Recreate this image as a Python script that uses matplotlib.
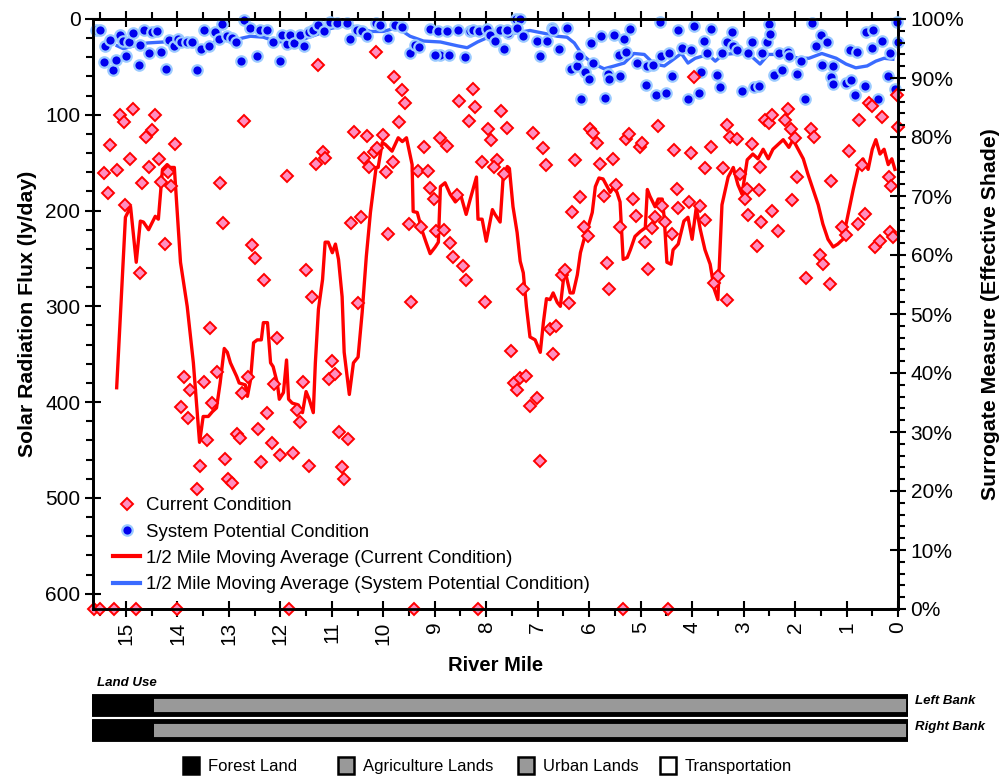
import matplotlib
matplotlib.use("Agg")
import matplotlib.pyplot as plt
from matplotlib.lines import Line2D
from matplotlib.patches import Rectangle
from matplotlib.ticker import MultipleLocator, FuncFormatter

plt.rcParams['font.family'] = ['Liberation Sans', 'DejaVu Sans']

# --- Current Condition (red diamonds): river mile / solar flux (ly/day)
red_mile = [15.43, 15.35, 15.30, 15.17, 15.12, 15.04, 15.01, 14.93, 14.87, 14.73,
            14.69, 14.62, 14.56, 14.49, 14.43, 14.36, 14.32, 14.25, 14.18, 14.12,
            14.05, 13.94, 13.88, 13.80, 13.75, 13.62, 13.57, 13.49, 13.42, 13.36,
            13.33, 13.24, 13.18, 13.11, 13.07, 13.02, 12.94, 12.85, 12.79, 12.74,
            12.70, 12.63, 12.56, 12.50, 12.43, 12.37, 12.31, 12.25, 12.17, 12.06,
            12.12, 12.00, 11.87, 11.75, 11.68, 11.62, 11.56, 11.50, 11.44, 11.38,
            11.31, 11.17, 11.13, 11.06, 11.00, 10.93, 10.87, 10.80, 10.76, 10.69,
            10.63, 10.56, 10.49, 10.43, 10.38, 10.32, 10.27, 10.19, 10.12, 10.01,
            9.94, 9.90, 11.26, 10.14, 9.79, 9.63, 9.57, 9.70, 9.81, 9.46,
            9.51, 9.27, 9.33, 9.14, 9.20, 9.09, 9.02, 8.89, 8.77, 8.97,
            8.83, 8.71, 8.65, 8.45, 8.39, 8.57, 8.52, 8.34, 8.26, 8.21,
            8.08, 8.02, 7.96, 7.91, 7.79, 7.84, 7.71, 7.60, 7.65, 7.52,
            7.47, 7.40, 7.34, 7.22, 7.29, 7.15, 7.02, 6.96, 7.09, 6.90,
            6.84, 6.77, 6.64, 6.71, 6.53, 6.47, 6.39, 6.34, 6.27, 6.17,
            6.10, 6.03, 5.98, 5.92, 5.85, 5.79, 5.71, 5.66, 5.61, 5.54,
            5.48, 5.41, 5.28, 5.22, 5.15, 5.09, 5.02, 4.98, 4.91, 4.85,
            4.78, 4.72, 4.66, 4.59, 4.52, 4.39, 4.35, 4.30, 4.27, 3.96,
            4.03, 3.75, 3.63, 3.40, 3.33, 3.26, 3.13, 3.07, 2.94, 2.83,
            2.68, 2.70, 2.58, 2.51, 2.44, 2.19, 2.14, 2.07, 2.01, 1.70,
            1.63, 1.96, 1.31, 0.95, 0.76, 0.70, 0.57, 0.50, 0.31, 0.17,
            0.13, 0.01, 0.00,
            4.06, 3.84, 3.75, 3.57, 3.50, 3.32, 2.97, 2.91, 2.73, 2.67,
            2.45, 2.33, 2.06, 1.79, 1.51, 1.46, 1.32, 1.09, 1.01, 0.78,
            0.64, 0.45, 0.35, 0.16, 0.10,
            15.63, 15.50, 15.24, 14.80, 14.00, 11.83, 9.40, 8.16, 5.34, 4.47]
red_flux = [161, 182, 132, 158, 100, 108, 194, 146, 94, 265,
            171, 123, 155, 116, 100, 146, 170, 235, 160, 174,
            131, 405, 374, 417, 387, 491, 467, 379, 440, 323,
            401, 369, 171, 213, 459, 480, 484, 433, 437, 390,
            106, 374, 236, 250, 428, 463, 272, 411, 443, 333,
            381, 455, 164, 453, 408, 421, 379, 262, 467, 290,
            151, 139, 145, 376, 357, 371, 431, 468, 480, 439,
            213, 118, 296, 207, 145, 122, 155, 139, 135, 121,
            160, 224, 48, 34, 61, 74, 88, 108, 149, 295,
            214, 217, 159, 159, 134, 176, 188, 124, 133, 221,
            220, 234, 249, 258, 273, 184, 86, 106, 73, 92,
            149, 295, 115, 126, 147, 154, 96, 114, 162, 347,
            380, 387, 375, 373, 282, 404, 396, 461, 119, 135,
            152, 324, 321, 350, 267, 262, 297, 202, 147, 186,
            217, 227, 115, 119, 129, 151, 185, 255, 282, 146,
            173, 217, 125, 120, 188, 206, 134, 129, 233, 261,
            218, 207, 112, 195, 212, 224, 137, 177, 197, 61,
            140, 156, 134, 156, 111, 123, 125, 162, 177, 130,
            154, 179, 105, 109, 100, 105, 94, 115, 124, 115,
            123, 165, 169, 138, 105, 152, 88, 91, 102, 165,
            174, 79, 113,
            191, 195, 210, 276, 268, 293, 188, 205, 237, 212,
            200, 221, 189, 270, 246, 256, 277, 217, 225, 214,
            204, 238, 232, 222, 228,
            616, 616, 616, 616, 616, 616, 616, 616, 616, 616]

# --- System Potential Condition (blue dots)
blue_mile = [15.59, 15.50, 15.40, 15.43, 15.31, 15.25, 15.20, 15.12, 15.05, 14.99,
             14.95, 14.86, 14.75, 14.72, 14.64, 14.56, 14.49, 14.39, 14.32, 14.23,
             14.17, 14.07, 13.99, 13.93, 13.81, 13.71, 13.62, 13.55, 13.49, 13.39,
             13.26, 13.20, 13.13, 13.04, 12.94, 12.87, 12.76, 12.70, 12.58, 12.45,
             12.40, 12.26, 12.14, 12.01, 11.97, 11.87, 11.81, 11.73, 11.62, 11.55,
             11.45, 11.37, 11.26, 11.16, 11.04, 10.90, 10.70, 10.64, 10.51, 10.41,
             10.32, 10.14, 10.06, 9.90, 9.77, 9.64, 9.48, 9.38, 9.31, 9.09,
             8.93, 8.76, 8.89, 8.99, 8.73, 8.54, 8.41, 8.31, 8.25, 8.15,
             7.99, 7.92, 7.83, 7.73, 7.66, 7.57, 7.60, 7.43, 7.34, 7.40,
             7.29, 7.02, 6.96, 6.82, 6.72, 6.70, 6.59, 6.43, 6.36, 6.23,
             6.20, 6.15, 6.09, 6.00, 5.96, 5.93, 5.77, 5.70, 5.63, 5.61,
             5.51, 5.40, 5.43, 5.32, 5.29, 5.20, 5.07, 4.89, 4.87, 4.76,
             4.70, 4.63, 4.61, 4.50, 4.44, 4.39, 4.27, 4.20, 4.08, 4.02,
             3.96, 3.87, 3.82, 3.77, 3.71, 3.64, 3.51, 3.46, 3.42, 3.33,
             3.22, 3.20, 3.13, 3.04, 2.92, 2.83, 2.80, 2.71, 2.64, 2.55,
             2.51, 2.49, 2.40, 2.32, 2.25, 2.14, 2.11, 1.96, 1.89, 1.80,
             1.68, 1.60, 1.50, 1.47, 1.37, 1.31, 1.27, 1.26, 1.02, 0.94,
             0.91, 0.83, 0.79, 0.64, 0.62, 0.51, 0.48, 0.38, 0.32, 0.20,
             0.15, 0.05, 0.01, 0.00]
blue_flux = [12, 12, 28, 45, 22, 53, 43, 17, 23, 39,
             24, 15, 48, 27, 12, 36, 14, 13, 34, 52,
             22, 28, 21, 24, 24, 24, 53, 31, 11, 28,
             14, 21, 5, 18, 20, 24, 44, 1, 9, 39,
             12, 11, 24, 44, 17, 26, 17, 25, 17, 28,
             14, 11, 6, 13, 3, 4, 4, 21, 11, 13,
             18, 4, 6, 20, 6, 8, 35, 27, 29, 10,
             13, 13, 38, 38, 38, 11, 40, 13, 11, 13,
             10, 17, 23, 12, 31, 15, 12, 0, 0, 9,
             18, 23, 39, 23, 9, 11, 31, 9, 52, 49,
             39, 84, 55, 63, 25, 46, 18, 83, 57, 63,
             17, 60, 38, 21, 34, 10, 46, 69, 49, 48,
             79, 3, 39, 77, 35, 59, 11, 30, 84, 32,
             7, 77, 55, 23, 35, 10, 58, 71, 35, 24,
             14, 28, 32, 75, 35, 24, 71, 70, 35, 24,
             5, 16, 58, 35, 53, 34, 39, 57, 44, 84,
             4, 28, 17, 48, 24, 61, 68, 49, 67, 32,
             64, 79, 34, 70, 14, 30, 11, 84, 23, 59,
             35, 73, 3, 24]

# --- 1/2 mile moving averages
red_avg_mile = [15.18, 15.01, 14.91, 14.80, 14.72, 14.66, 14.56, 14.43, 14.37, 14.29,
                14.20, 14.14, 14.06, 13.94, 13.81, 13.69, 13.57, 13.50, 13.40, 13.32,
                13.24, 13.17, 13.09, 13.03, 12.97, 12.85, 12.80, 12.68, 12.64, 12.58,
                12.52, 12.45, 12.37, 12.33, 12.25, 12.19, 12.14, 12.06, 12.02, 11.94,
                11.88, 11.84, 11.77, 11.65, 11.57, 11.50, 11.44, 11.36, 11.32, 11.26,
                11.18, 11.13, 11.07, 10.99, 10.93, 10.87, 10.80, 10.76, 10.66, 10.58,
                10.49, 10.41, 10.33, 10.25, 10.14, 10.10, 10.02, 9.96, 9.83, 9.71,
                9.63, 9.55, 9.44, 9.42, 9.34, 9.24, 9.17, 9.09, 8.99, 8.93,
                8.89, 8.80, 8.70, 8.60, 8.50, 8.39, 8.31, 8.19, 8.16, 8.08,
                8.00, 7.88, 7.83, 7.73, 7.67, 7.59, 7.55, 7.48, 7.40, 7.34,
                7.28, 7.22, 7.15, 7.05, 6.95, 6.89, 6.83, 6.76, 6.70, 6.62,
                6.56, 6.50, 6.47, 6.43, 6.37, 6.31, 6.23, 6.17, 6.10, 6.02,
                5.94, 5.88, 5.81, 5.73, 5.65, 5.59, 5.53, 5.46, 5.40, 5.34,
                5.26, 5.20, 5.11, 5.01, 4.91, 4.87, 4.82, 4.72, 4.66, 4.58,
                4.54, 4.49, 4.41, 4.37, 4.27, 4.16, 4.08, 4.00, 3.92, 3.84,
                3.75, 3.65, 3.57, 3.50, 3.42, 3.30, 3.20, 3.11, 3.03, 2.93,
                2.82, 2.72, 2.62, 2.52, 2.43, 2.33, 2.23, 2.12, 2.04, 1.94,
                1.84, 1.75, 1.65, 1.55, 1.46, 1.36, 1.26, 1.17, 1.07, 0.97,
                0.87, 0.78, 0.68, 0.58, 0.50, 0.43, 0.35, 0.27, 0.19, 0.12,
                0.06]
red_avg_flux = [385, 207, 196, 254, 211, 212, 220, 206, 209, 157,
                152, 155, 155, 254, 300, 359, 442, 415, 415, 410,
                406, 380, 344, 348, 359, 373, 380, 382, 394, 377,
                338, 335, 335, 317, 317, 359, 363, 380, 397, 390,
                356, 397, 401, 403, 411, 389, 397, 411, 359, 303,
                272, 233, 233, 244, 235, 251, 290, 348, 392, 359,
                353, 306, 248, 202, 155, 155, 129, 131, 138, 124,
                128, 124, 152, 201, 202, 222, 233, 245, 238, 233,
                175, 171, 183, 191, 183, 204, 188, 165, 209, 209,
                232, 199, 204, 212, 164, 154, 156, 196, 223, 253,
                265, 300, 332, 335, 348, 317, 292, 293, 286, 296,
                300, 272, 262, 272, 286, 286, 267, 244, 230, 217,
                202, 175, 166, 167, 175, 181, 176, 181, 191, 251,
                249, 241, 227, 222, 218, 178, 185, 196, 188, 188,
                209, 254, 256, 241, 235, 211, 207, 230, 197, 220,
                241, 256, 282, 293, 194, 165, 155, 173, 183, 147,
                141, 146, 136, 146, 136, 131, 126, 134, 126, 136,
                146, 162, 178, 194, 214, 230, 238, 235, 230, 204,
                178, 157, 146, 157, 136, 126, 141, 136, 152, 146,
                157]

blue_avg_mile = [15.17, 15.05, 14.85, 14.58, 14.27, 14.00, 13.75, 13.55, 13.36, 13.11,
                 12.83, 12.58, 12.33, 12.06, 11.81, 11.55, 11.28, 11.03, 10.78, 10.51,
                 10.25, 10.00, 9.73, 9.48, 9.22, 8.89, 8.56, 8.37, 8.17, 7.92,
                 7.59, 7.48, 7.15, 6.87, 6.62, 6.43, 6.29, 6.14, 5.94, 5.71,
                 5.51, 5.32, 5.13, 4.93, 4.74, 4.54, 4.41, 4.21, 4.08, 3.94,
                 3.69, 3.55, 3.40, 3.17, 2.91, 2.68, 2.52, 2.33, 2.12, 1.92,
                 1.73, 1.48, 1.20, 1.01, 0.82, 0.60, 0.43, 0.27, 0.10]
blue_avg_flux = [28, 31, 28, 25, 24, 25, 24, 29, 26, 20,
                 21, 18, 19, 24, 23, 21, 16, 10, 7, 8,
                 13, 13, 9, 18, 23, 24, 28, 30, 24, 18,
                 14, 15, 12, 15, 18, 19, 25, 37, 46, 52,
                 49, 46, 36, 37, 47, 49, 44, 36, 46, 41,
                 37, 44, 37, 36, 36, 47, 37, 37, 39, 41,
                 41, 36, 41, 47, 51, 49, 44, 41, 42]

landuse_names = ['Forest Land', 'Agriculture Lands', 'Urban Lands', 'Transportation']
landuse_colors = ['black', '#999999', '#999999', 'white']
# segments (start mile, end mile, category index) for each bank
left_bank = [(15.65, 14.45, 0), (14.45, -0.2, 1)]
right_bank = [(15.65, 14.45, 0), (14.45, -0.2, 1)]

W, H = 1007, 777
fig = plt.figure(figsize=(W / 100, H / 100), dpi=100)
ax = fig.add_axes([93 / W, 1 - 609 / H, (898 - 93) / W, (609 - 19) / H])

ax.plot(red_avg_mile, red_avg_flux, color='#FF0000', lw=2.4, zorder=3)
ax.plot(blue_avg_mile, blue_avg_flux, color='#3A6BFF', lw=2.4, zorder=3)
ax.plot(blue_mile, blue_flux, 'o', ms=7.5, mfc='#0000EE', mec='#9CCBFF', mew=1.6,
        zorder=4, clip_on=False)
ax.plot(red_mile, red_flux, 'D', ms=5.8, mfc='#FF8FC0', mec='#FF0000', mew=1.4,
        zorder=5, clip_on=False)

ax.set_xlim(15.64, 0)
ax.set_ylim(616, 0)
ax.xaxis.set_major_locator(MultipleLocator(1))
ax.xaxis.set_minor_locator(MultipleLocator(0.5))
ax.yaxis.set_major_locator(MultipleLocator(100))
ax.yaxis.set_minor_locator(MultipleLocator(20))
ax.xaxis.set_ticks_position('both')
ax.tick_params(axis='both', which='major', direction='inout', length=11, width=1.5,
               labelsize=15)
ax.tick_params(axis='both', which='minor', direction='out', length=5, width=1.5)
ax.tick_params(axis='x', which='major', labelrotation=90)
for s in ax.spines.values():
    s.set_linewidth(2)

ax.set_ylabel('Solar Radiation Flux (ly/day)', fontsize=15.3, fontweight='bold', labelpad=6)
ax.set_xlabel('River Mile', fontsize=14.5, fontweight='bold', labelpad=8)

ax2 = ax.twinx()
ax2.set_ylim(0, 100)
ax2.yaxis.set_major_locator(MultipleLocator(10))
ax2.yaxis.set_minor_locator(MultipleLocator(2))
ax2.yaxis.set_major_formatter(FuncFormatter(lambda v, p: f'{v:.0f}%'))
ax2.tick_params(which='major', direction='inout', length=11, width=1.5, labelsize=15)
ax2.tick_params(which='minor', direction='out', length=5, width=1.5)
for s in ax2.spines.values():
    s.set_linewidth(2)
ax2.set_ylabel('Surrogate Measure (Effective Shade)', fontsize=15.3, fontweight='bold',
               labelpad=12)

handles = [
    Line2D([], [], ls='none', marker='D', ms=5.8, mfc='#FF8FC0', mec='#FF0000', mew=1.4),
    Line2D([], [], ls='none', marker='o', ms=7.5, mfc='#0000EE', mec='#9CCBFF', mew=1.6),
    Line2D([], [], color='#FF0000', lw=3),
    Line2D([], [], color='#3A6BFF', lw=3),
]
labels = ['Current Condition', 'System Potential Condition',
          '1/2 Mile Moving Average (Current Condition)',
          '1/2 Mile Moving Average (System Potential Condition)']
ax.legend(handles, labels, loc='lower left', bbox_to_anchor=(0.016, 0.014), frameon=False,
          fontsize=13.4, handlelength=1.45, handletextpad=0.3, labelspacing=0.5,
          borderaxespad=0)

# --- Land use strip
lax = fig.add_axes([92 / W, 1 - 742 / H, (908 - 92) / W, (742 - 692) / H])
lax.set_xlim(15.65, -0.2)
lax.set_ylim(0, 2)
lax.axis('off')
for row, bank in [(1, left_bank), (0, right_bank)]:
    for x0, x1, k in bank:
        lax.add_patch(Rectangle((x1, row + 0.12), x0 - x1, 0.72,
                                facecolor=landuse_colors[k], edgecolor='none'))
    lax.add_patch(Rectangle((bank[-1][1], row + 0.12), bank[0][0] - bank[-1][1], 0.72,
                            facecolor='none', edgecolor='black', lw=3.5, joinstyle='round'))
fig.text(97 / W, 1 - 683 / H, 'Land Use', fontsize=9.5, fontweight='bold',
         fontstyle='italic', va='center')
fig.text(915 / W, 1 - 701 / H, 'Left Bank', fontsize=9.5, fontweight='bold',
         fontstyle='italic', va='center')
fig.text(915 / W, 1 - 727 / H, 'Right Bank', fontsize=9.5, fontweight='bold',
         fontstyle='italic', va='center')

# land use legend: square + label
lu_x = [183, 338, 518, 660]
for xpix, name, col in zip(lu_x, landuse_names, landuse_colors):
    fig.patches.append(Rectangle((xpix / W, 1 - 774 / H), 16 / W, 17 / H,
                                 transform=fig.transFigure, facecolor=col,
                                 edgecolor='black', lw=1.8))
    fig.text((xpix + 25) / W, 1 - 771 / H, name, fontsize=12, va='baseline',
             family=['Liberation Sans Narrow', 'Liberation Sans'])

fig.savefig('out.png', dpi=100)
